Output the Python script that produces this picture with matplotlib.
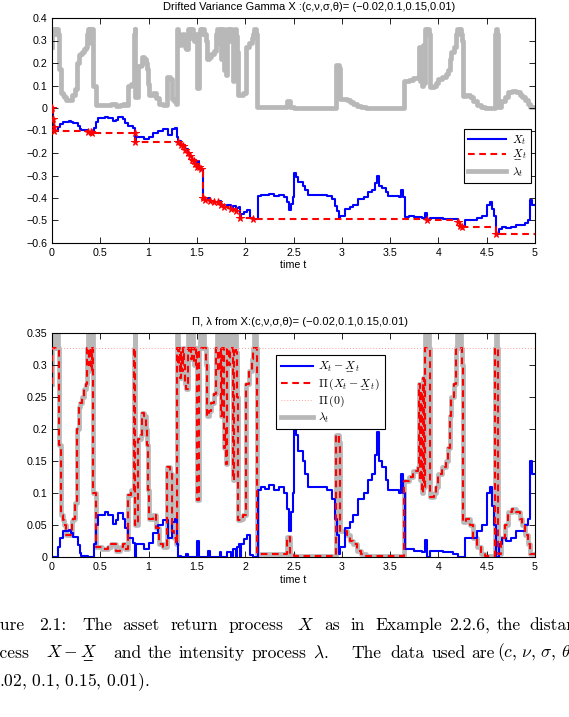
import numpy as np
import matplotlib
matplotlib.use('Agg')
import matplotlib.pyplot as plt
from matplotlib.lines import Line2D
from matplotlib.mathtext import MathTextParser

plt.rcParams['font.family'] = ['Liberation Sans', 'DejaVu Sans']
plt.rcParams['mathtext.fontset'] = 'cm'
plt.rcParams['axes.unicode_minus'] = True

# ---------------- data ----------------
X_T = [0.000, 0.008, 0.016, 0.025, 0.065, 0.080, 0.110, 0.180, 0.200, 0.220,
       0.270, 0.290, 0.300, 0.370, 0.400, 0.410, 0.430, 0.460, 0.480, 0.550,
       0.580, 0.630, 0.660, 0.680, 0.740, 0.760, 0.790, 0.840, 0.856, 0.862,
       0.870, 0.950, 1.000, 1.050, 1.100, 1.150, 1.200, 1.240, 1.270, 1.290,
       1.300, 1.320, 1.340, 1.360, 1.380, 1.390, 1.410, 1.430, 1.450, 1.470,
       1.485, 1.500, 1.505, 1.525, 1.545, 1.560, 1.580, 1.610, 1.640, 1.680,
       1.720, 1.735, 1.750, 1.780, 1.810, 1.850, 1.870, 1.900, 1.910, 1.940,
       1.950, 1.958, 1.990, 2.020, 2.050, 2.080, 2.130, 2.160, 2.200, 2.250,
       2.300, 2.350, 2.400, 2.430, 2.450, 2.470, 2.490, 2.510, 2.530, 2.550,
       2.600, 2.620, 2.650, 2.850, 2.900, 2.930, 2.950, 2.970, 2.985, 3.030,
       3.080, 3.120, 3.170, 3.230, 3.270, 3.310, 3.340, 3.360, 3.380, 3.420,
       3.460, 3.480, 3.590, 3.610, 3.630, 3.650, 3.700, 3.750, 3.830, 3.860,
       3.880, 3.910, 4.050, 4.150, 4.200, 4.220, 4.245, 4.280, 4.400, 4.450,
       4.500, 4.530, 4.550, 4.580, 4.600, 4.630, 4.660, 4.700, 4.750, 4.800,
       4.900, 4.930, 4.950, 4.970]
X_V = [0.000, -0.050, -0.085, -0.100, -0.085, -0.070, -0.060, -0.058, -0.062, -0.068,
       -0.082, -0.093, -0.098, -0.105, -0.108, -0.110, -0.090, -0.060, -0.045, -0.040,
       -0.045, -0.058, -0.052, -0.042, -0.050, -0.065, -0.080, -0.088, -0.112, -0.150,
       -0.130, -0.138, -0.128, -0.112, -0.100, -0.092, -0.120, -0.095, -0.090, -0.130,
       -0.150, -0.148, -0.165, -0.170, -0.185, -0.180, -0.200, -0.212, -0.230, -0.235,
       -0.250, -0.260, -0.235, -0.262, -0.270, -0.400, -0.410, -0.400, -0.412, -0.418,
       -0.420, -0.412, -0.430, -0.440, -0.432, -0.450, -0.437, -0.460, -0.445, -0.440,
       -0.490, -0.470, -0.462, -0.455, -0.487, -0.495, -0.390, -0.385, -0.388, -0.383,
       -0.390, -0.385, -0.395, -0.420, -0.455, -0.425, -0.395, -0.290, -0.305, -0.330,
       -0.345, -0.365, -0.385, -0.390, -0.405, -0.435, -0.460, -0.490, -0.480, -0.450,
       -0.440, -0.430, -0.405, -0.395, -0.375, -0.365, -0.335, -0.300, -0.345, -0.355,
       -0.375, -0.390, -0.395, -0.365, -0.395, -0.483, -0.482, -0.485, -0.487, -0.468,
       -0.500, -0.490, -0.492, -0.495, -0.505, -0.525, -0.530, -0.500, -0.490, -0.480,
       -0.430, -0.420, -0.450, -0.480, -0.560, -0.540, -0.530, -0.535, -0.530, -0.520,
       -0.510, -0.500, -0.410, -0.430]

LAM_T = [0.000, 0.004, 0.008, 0.020, 0.030, 0.045, 0.055, 0.065, 0.075, 0.090,
         0.110, 0.125, 0.140, 0.195, 0.205, 0.220, 0.240, 0.260, 0.275, 0.290,
         0.310, 0.330, 0.350, 0.365, 0.372, 0.380, 0.385, 0.392, 0.398, 0.405,
         0.412, 0.420, 0.428, 0.455, 0.520, 0.580, 0.610, 0.660, 0.700, 0.730,
         0.760, 0.790, 0.820, 0.850, 0.855, 0.862, 0.895, 0.920, 0.935, 0.955,
         0.970, 0.985, 0.995, 1.005, 1.050, 1.080, 1.110, 1.150, 1.195, 1.225,
         1.240, 1.265, 1.280, 1.290, 1.295, 1.305, 1.315, 1.325, 1.335, 1.345,
         1.355, 1.365, 1.375, 1.390, 1.405, 1.410, 1.420, 1.430, 1.440, 1.450,
         1.460, 1.475, 1.490, 1.505, 1.525, 1.530, 1.545, 1.555, 1.570, 1.590,
         1.605, 1.625, 1.650, 1.680, 1.700, 1.705, 1.720, 1.735, 1.750, 1.765,
         1.780, 1.795, 1.805, 1.815, 1.830, 1.845, 1.860, 1.870, 1.885, 1.890,
         1.905, 1.915, 1.925, 1.960, 1.980, 2.005, 2.040, 2.070, 2.085, 2.095,
         2.110, 2.120, 2.200, 2.300, 2.430, 2.465, 2.500, 2.945, 2.975, 2.985,
         3.050, 3.080, 3.120, 3.160, 3.200, 3.250, 3.640, 3.700, 3.740, 3.790,
         3.800, 3.810, 3.820, 3.830, 3.840, 3.850, 3.860, 3.865, 3.875, 3.885,
         3.900, 3.915, 3.950, 3.975, 3.995, 4.040, 4.075, 4.095, 4.115, 4.135,
         4.160, 4.185, 4.195, 4.210, 4.220, 4.235, 4.245, 4.255, 4.290, 4.330,
         4.360, 4.400, 4.440, 4.480, 4.590, 4.595, 4.605, 4.615, 4.650, 4.690,
         4.720, 4.760, 4.800, 4.840, 4.870, 4.900, 4.925, 4.950]
LAM_V = [0.270, 0.327, 0.350, 0.327, 0.350, 0.327, 0.350, 0.327, 0.175, 0.065,
         0.058, 0.050, 0.035, 0.036, 0.056, 0.060, 0.085, 0.200, 0.235, 0.240,
         0.250, 0.262, 0.270, 0.327, 0.350, 0.300, 0.350, 0.310, 0.350, 0.290,
         0.350, 0.327, 0.100, 0.015, 0.012, 0.015, 0.020, 0.010, 0.015, 0.020,
         0.012, 0.097, 0.105, 0.327, 0.350, 0.050, 0.185, 0.190, 0.225, 0.220,
         0.200, 0.175, 0.105, 0.060, 0.065, 0.045, 0.020, 0.015, 0.140, 0.130,
         0.040, 0.030, 0.020, 0.327, 0.350, 0.300, 0.327, 0.280, 0.320, 0.290,
         0.327, 0.300, 0.270, 0.262, 0.327, 0.350, 0.320, 0.350, 0.310, 0.350,
         0.327, 0.300, 0.327, 0.089, 0.327, 0.350, 0.327, 0.350, 0.327, 0.300,
         0.220, 0.228, 0.240, 0.255, 0.327, 0.350, 0.290, 0.350, 0.220, 0.350,
         0.170, 0.200, 0.145, 0.350, 0.300, 0.350, 0.327, 0.120, 0.327, 0.350,
         0.320, 0.250, 0.058, 0.060, 0.065, 0.270, 0.290, 0.310, 0.327, 0.350,
         0.327, 0.005, 0.004, 0.005, 0.032, 0.003, 0.001, 0.191, 0.180, 0.040,
         0.035, 0.025, 0.020, 0.010, 0.004, 0.001, 0.118, 0.125, 0.135, 0.140,
         0.270, 0.120, 0.260, 0.100, 0.280, 0.110, 0.327, 0.350, 0.327, 0.350,
         0.327, 0.094, 0.100, 0.110, 0.130, 0.140, 0.150, 0.170, 0.220, 0.250,
         0.270, 0.327, 0.350, 0.327, 0.350, 0.327, 0.300, 0.055, 0.060, 0.050,
         0.030, 0.015, 0.005, 0.002, 0.327, 0.350, 0.327, 0.005, 0.030, 0.050,
         0.070, 0.075, 0.070, 0.060, 0.050, 0.035, 0.020, 0.005]

PI0 = 0.327
T_END = 5.0

X_TICKS = [0, 0.5, 1, 1.5, 2, 2.5, 3, 3.5, 4, 4.5, 5]
X_TICK_LABELS = ['0', '0.5', '1', '1.5', '2', '2.5', '3', '3.5', '4', '4.5', '5']
TOP_Y_TICKS = [-0.6, -0.5, -0.4, -0.3, -0.2, -0.1, 0, 0.1, 0.2, 0.3, 0.4]
TOP_Y_LABELS = ['\u22120.6', '\u22120.5', '\u22120.4', '\u22120.3', '\u22120.2',
                '\u22120.1', '0', '0.1', '0.2', '0.3', '0.4']
BOT_Y_TICKS = [0, 0.05, 0.1, 0.15, 0.2, 0.25, 0.3, 0.35]
BOT_Y_LABELS = ['0', '0.05', '0.1', '0.15', '0.2', '0.25', '0.3', '0.35']

TOP_TITLE = 'Drifted Variance Gamma X :(c,\u03bd,\u03c3,\u03b8)= (\u22120.02,0.1,0.15,0.01)'
BOT_TITLE = '\u03a0, \u03bb from X:(c,\u03bd,\u03c3,\u03b8)= (\u22120.02,0.1,0.15,0.01)'

# ---------------- underlined X in mathtext ----------------
_parser = MathTextParser('agg')
def _ok(s):
    try:
        _parser.parse(s, dpi=100)
        return True
    except Exception:
        return False

UX = r'\overline{X}'
for cand in [r'\underset{\_\!\_}{X}', r'\underset{\_\_}{X}', r'\underset{\_}{X}']:
    if _ok('$' + cand + '_t$'):
        UX = cand
        break

# ---------------- derived series ----------------
xt = np.append(np.array(X_T), T_END)
xv = np.array(X_V)
xv_s = np.append(xv, xv[-1])
runmin = np.minimum.accumulate(xv)
runmin_s = np.append(runmin, runmin[-1])
dist_s = xv_s - runmin_s
lt = np.append(np.array(LAM_T), T_END)
lv = np.append(np.array(LAM_V), LAM_V[-1])
piv = np.minimum(lv, PI0)
at_min = (xv - runmin) == 0

BLUE = (0, 0, 1)
RED = (1, 0, 0)
GRAY = (0.72, 0.72, 0.72)
PINK = (1.0, 0.62, 0.62)
FS = 7.7
GLW = 3.4

W, H = 569, 717
fig = plt.figure(figsize=(W / 100, H / 100), dpi=100)

def px_axes(x0, y0, x1, y1):
    return fig.add_axes([x0 / W, 1 - y1 / H, (x1 - x0) / W, (y1 - y0) / H])

def style(ax):
    ax.tick_params(direction='in', top=True, right=True, length=4, width=0.6,
                   labelsize=FS, pad=3.5)
    for s in ax.spines.values():
        s.set_linewidth(0.8)
    ax.set_xlim(0, 5)
    ax.set_xticks(X_TICKS)
    ax.set_xticklabels(X_TICK_LABELS)

# ---------------- top panel ----------------
ax1 = px_axes(52, 18, 535, 243)
style(ax1)
ax1.step(lt, lv, where='post', color=GRAY, lw=GLW, zorder=1)
ax1.step(xt, xv_s, where='post', color=BLUE, lw=1.5, zorder=2)
ax1.step(xt, runmin_s, where='post', color=RED, lw=1.5, dashes=(3.2, 2.2), zorder=3)
ax1.plot(np.array(X_T)[at_min], runmin[at_min], ls='none', marker='*', color=RED,
         ms=5.5, mew=0.7, zorder=3)
ax1.set_ylim(-0.6, 0.4)
ax1.set_yticks(TOP_Y_TICKS)
ax1.set_yticklabels(TOP_Y_LABELS)
ax1.text(0.532, 1 + 11 / 225, TOP_TITLE, transform=ax1.transAxes, ha='center',
         va='center', fontsize=8.0)
ax1.text(0.5, -22 / 225, 'time t', transform=ax1.transAxes, ha='center',
         va='center', fontsize=FS)
h1 = [Line2D([], [], color=BLUE, lw=1.5),
      Line2D([], [], color=RED, lw=1.5, dashes=(3.2, 2.2)),
      Line2D([], [], color=GRAY, lw=GLW)]
leg1 = ax1.legend(h1, [r'$X_t$', '$' + UX + '_t$', r'$\lambda_t$'],
                  loc='upper left', bbox_to_anchor=(464 / W, 1 - 129 / H),
                  bbox_transform=fig.transFigure, borderaxespad=0,
                  fontsize=8.3, handlelength=3.3, handletextpad=0.5,
                  borderpad=0.35, labelspacing=0.12, fancybox=False,
                  framealpha=1, edgecolor='black')
leg1.get_frame().set_linewidth(0.8)

# ---------------- bottom panel ----------------
ax2 = px_axes(52, 333, 535, 557)
style(ax2)
ax2.step(lt, lv, where='post', color=GRAY, lw=GLW, zorder=1)
ax2.step(xt, dist_s, where='post', color=BLUE, lw=1.5, zorder=2)
ax2.step(lt, piv, where='post', color=RED, lw=1.5, dashes=(3.2, 2.2), zorder=3)
ax2.axhline(PI0, color=PINK, lw=0.7, ls=(0, (1, 2)), zorder=3)
ax2.set_ylim(0, 0.35)
ax2.set_yticks(BOT_Y_TICKS)
ax2.set_yticklabels(BOT_Y_LABELS)
ax2.text(0.514, 1 + 11.3 / 224, BOT_TITLE, transform=ax2.transAxes, ha='center',
         va='center', fontsize=8.1)
ax2.text(0.5, -23 / 224, 'time t', transform=ax2.transAxes, ha='center',
         va='center', fontsize=FS)
h2 = [Line2D([], [], color=BLUE, lw=1.5),
      Line2D([], [], color=RED, lw=1.5, dashes=(3.2, 2.2)),
      Line2D([], [], color=PINK, lw=0.7, ls=(0, (1, 2))),
      Line2D([], [], color=GRAY, lw=GLW)]
leg2 = ax2.legend(h2, ['$X_t-' + UX + '_t$', r'$\Pi\,(X_t-' + UX + '_t)$',
                       r'$\Pi\,(0)$', r'$\lambda_t$'],
                  loc='upper left', bbox_to_anchor=(276 / W, 1 - 355 / H),
                  bbox_transform=fig.transFigure, borderaxespad=0,
                  fontsize=8.5, handlelength=2.7, handletextpad=0.5,
                  borderpad=0.4, labelspacing=0.15, fancybox=False,
                  framealpha=1, edgecolor='black')
leg2.get_frame().set_linewidth(0.8)

# ---------------- caption (justified lines, clipped at page edges) ----------------
CAP = dict(fontsize=12.6, family='cmr10', va='center')
renderer = fig.canvas.get_renderer()

def width_of(s):
    t = fig.text(0, 0, s, **CAP)
    w = t.get_window_extent(renderer).width
    t.remove()
    return w

def place_line(items, y):
    """items: list of (text, anchor_x or None); first and last must be anchored."""
    idx = [i for i, (_, a) in enumerate(items) if a is not None]
    ws = [width_of(s) for s, _ in items]
    xs = [None] * len(items)
    for a, b in zip(idx[:-1], idx[1:]):
        xa, xb = items[a][1], items[b][1]
        n_gap = b - a
        gap = (xb - xa - sum(ws[a:b])) / n_gap
        x = xa
        for k in range(a, b):
            xs[k] = x
            x += ws[k] + gap
    xs[idx[-1]] = items[idx[-1]][1]
    for (s, _), x in zip(items, xs):
        fig.text(x / W, 1 - y / H, s, ha='left', **CAP)

y1, y2, y3 = 625, 653, 682
place_line([('Figure', -width_of('Fig')), ('2.1:', None), ('The', 82),
            ('asset', None), ('return', None), ('process', 228), (r'$X$', 296.7),
            ('as', None), ('in', None), ('Example', 375), ('2.2.6,', None),
            ('the', 497), ('distance', 529)], y1)
place_line([('process', -width_of('pro')), ('$X-' + UX + '$', None), ('and', 113),
            ('the', None), ('intensity', None), ('process', None), (r'$\lambda$.', 313),
            ('The', 351.7), ('data', 390), ('used', 431.7), ('are', 471.7),
            (r'$(c,\,\nu,\,\sigma,\,\theta)=$', 496.7)], y2)
fig.text(150 / W, 1 - y3 / H, r'$(-0.02,\,0.1,\,0.15,\,0.01)$.', ha='right', **CAP)

fig.savefig('out.png', dpi=100)
